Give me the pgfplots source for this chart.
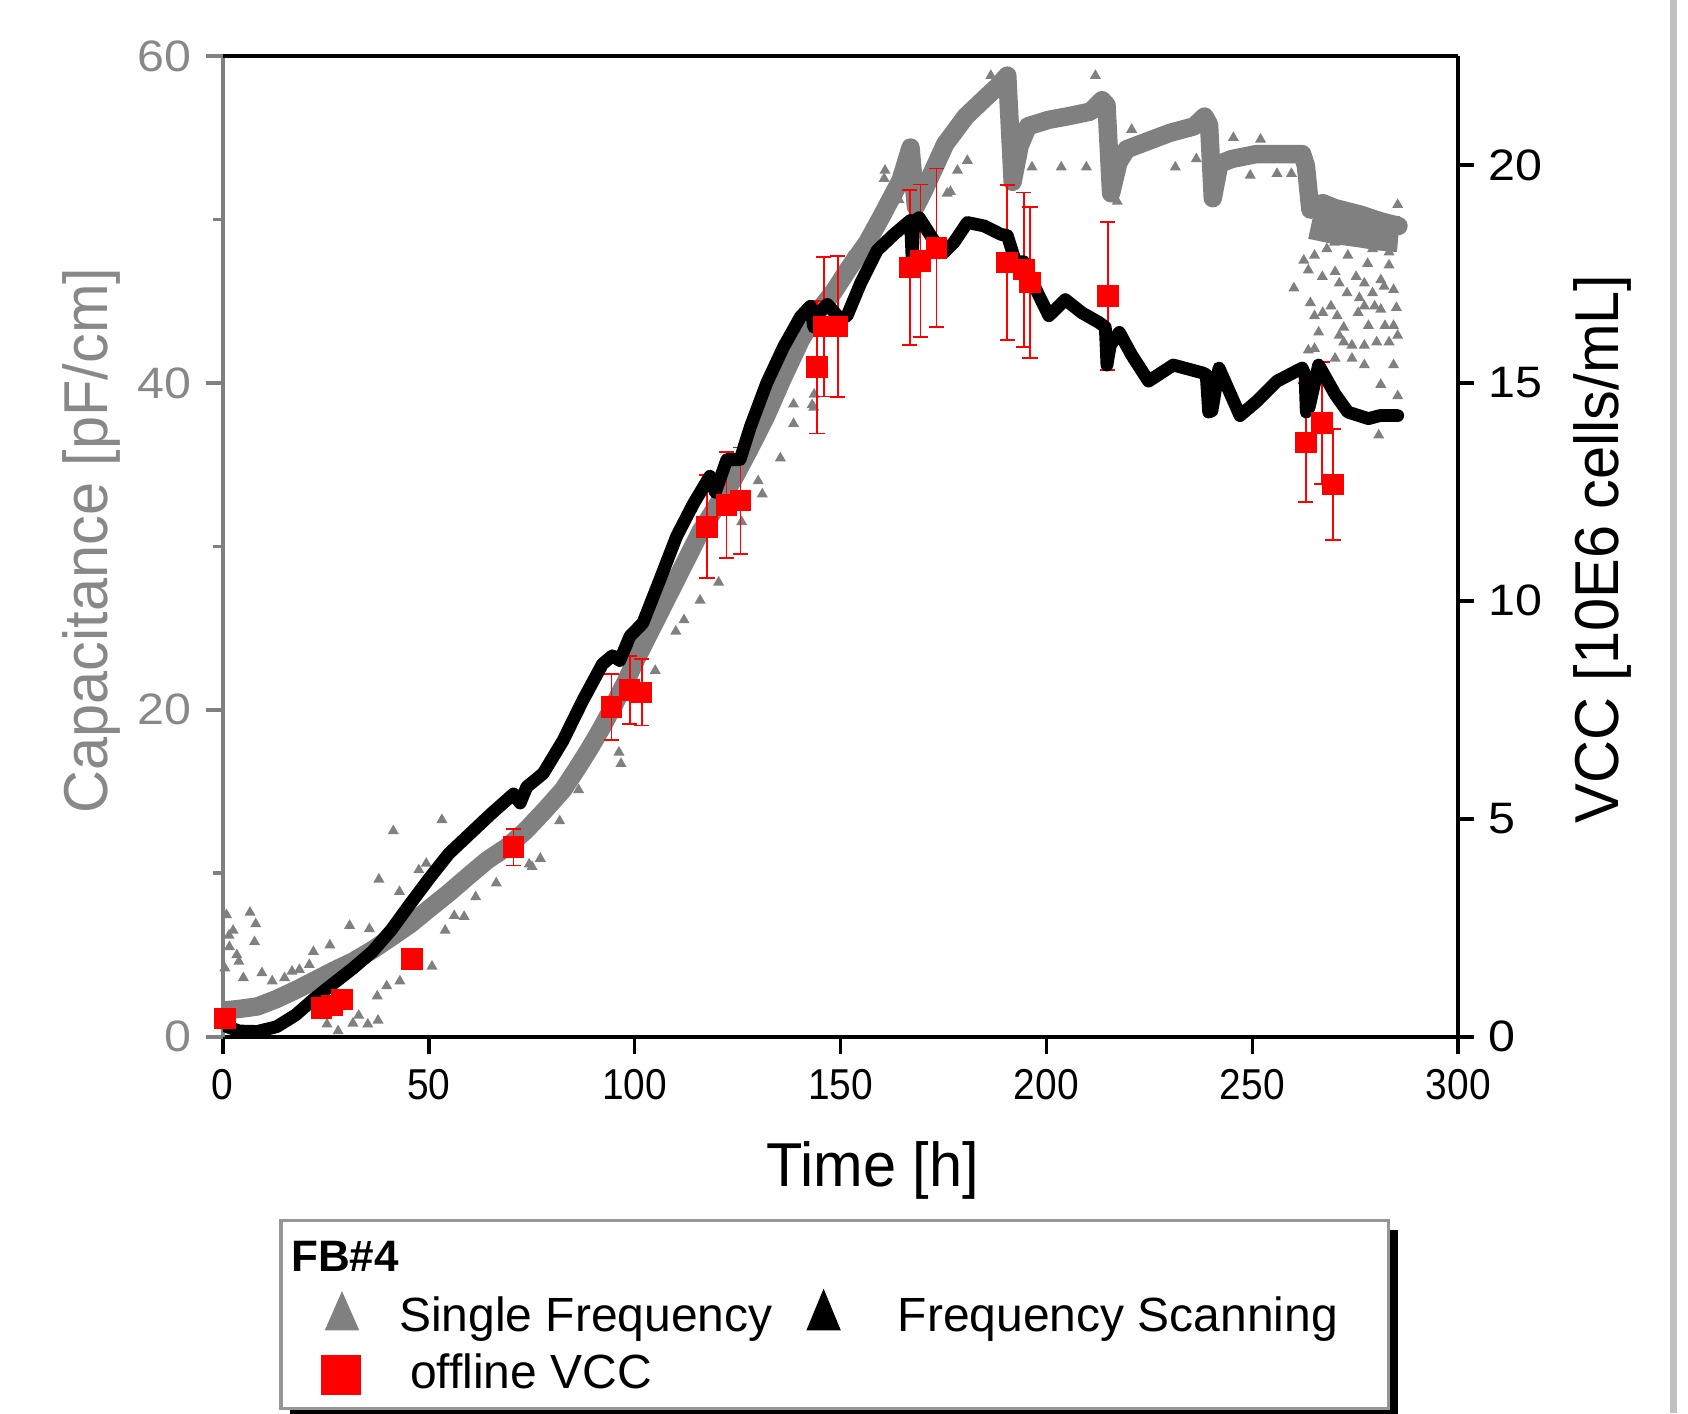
\documentclass[border=0pt]{standalone}
\usepackage{pgfplots}
\pgfplotsset{compat=1.18}
\usepackage{pgfplotstable}
\usepackage{fontspec}
\setmainfont{Liberation Sans}
\newfontfamily\labfont[FakeStretch=0.96]{Liberation Sans}
\newfontfamily\btickfont[FakeStretch=0.9]{Liberation Sans}
\newfontfamily\stickfont[FakeStretch=1.1]{Liberation Sans}
\definecolor{dgray}{RGB}{128,128,128}
\definecolor{tgray}{RGB}{136,136,136}
\definecolor{fgray}{RGB}{150,150,150}
\definecolor{bargray}{RGB}{192,192,192}

% Single Frequency capacitance band [pF/cm]
\pgfplotstableread{
t v
0 1.6
4 1.7
8.4 1.85
13 2.3
17.7 2.85
22 3.4
27 4.05
31.6 4.6
36.3 5.3
41 6.1
45.6 6.9
50.2 7.85
54.9 8.8
59.5 9.8
64.2 10.8
69 11.6
73.5 12.6
78 13.8
82.6 15.1
86 16.4
89 17.6
92 18.9
95 20.3
98 21.8
100.2 23.0
104 24.9
108 26.9
112 28.9
116 30.9
120 32.5
124 34.1
128 36.0
132 38.0
136 40.3
140.3 42.6
144 44.2
148.4 45.6
152 47.0
156.5 48.6
160 50.2
164.6 52.4
167 54.4
168.3 50.8
170.3 51.8
172.5 53.0
175.4 54.6
180.4 56.3
185 57.4
188 58.1
190.5 58.8
191.8 52.3
193.5 54.5
195.5 55.7
200.6 56.1
205 56.3
210.7 56.6
213.5 57.3
214.6 57.0
215.7 51.6
217.5 53.5
219.5 54.3
225.8 54.9
230 55.3
235.9 55.7
238.4 56.3
239.5 55.8
240.4 51.3
242 53.4
245 53.7
251 54.0
256 54.0
262.1 54.0
263 53.3
264.1 50.6
266 50.9
267.1 51.0
270 50.7
276.2 50.3
281 49.9
285.5 49.6
}\singleband

% wide, noisy part of the single frequency band at the end
\pgfplotstableread{
t v
264.5 49.9
270 49.6
276 49.4
281 49.2
285.5 49.1
}\singlewide

% scattered single frequency readings [pF/cm]
\pgfplotstableread{
t v
0.9 7.45
6.6 7.6
8 6.9
2.5 6.5
7.7 5.8
3.4 5.0
1.5 6.2
0.5 4.2
1.6 5.5
3.9 4.6
5 3.6
9.5 3.9
12 3.4
15 3.6
16.8 4.0
18.6 4.1
21 4.4
22 5.2
26 5.6
25.3 0.76
28 0.35
31.6 0.82
35.2 0.76
37.7 1.0
33 1.3
30.8 6.8
35.6 6.6
37.9 9.63
41.4 12.59
53.2 13.27
42.9 8.87
47.6 10.2
49.4 10.6
56.2 7.4
58.6 7.35
54 6.5
50.8 4.3
43 3.4
39.8 3.1
37.5 2.48
61.4 8.55
66.4 9.4
74.4 10.55
75.1 10.4
77.1 10.9
81.8 13.2
86.4 15.1
96.2 17.4
96.7 16.7
105 22.4
110 24.8
112 25.5
115.9 26.7
120.4 27.8
126 31.5
130 34.0
131 33.2
135.4 35.4
138.6 37.5
138.6 38.7
143.5 38.5
143.1 38.65
143.6 39.3
152.2 47.7
152.4 47.2
160.6 52.5
160.8 53.0
164.2 51.2
175.9 51.6
176.7 51.7
178.4 53.0
180.8 53.6
186.5 58.8
196.5 53.2
203.6 53.2
209.7 53.2
211.9 58.8
217.2 51.1
220.7 55.5
231.3 53.2
236.4 53.7
245.4 55.0
249.5 52.7
252 54.9
256 52.8
259.5 52.8
260.1 45.8
262.5 47.5
263.6 46.9
264.1 44.9
265.1 44.1
263.6 42.0
265.1 42.1
265.1 47.8
265.1 49.0
266.1 43.1
267 46.5
267.1 44.3
268.1 48.2
268.6 40.3
269.1 44.7
270 48.6
270.1 46.8
270.1 41.5
270.6 44.1
271.1 46.1
271.1 42.9
272.2 43.4
272.2 42.5
273 45.5
273.2 47.8
274.2 42.3
274.2 41.5
275.2 46.5
275.7 44.3
276 45.2
277.2 46.1
277.2 44.7
277.2 42.3
277.2 41.1
278 47.3
278.2 43.5
279.2 45.5
279.2 48.2
279.7 44.7
280.2 42.5
280.7 36.8
281.2 46.3
281.2 44.5
281.2 39.9
282 45.9
282.2 43.5
283.2 47.2
283.2 48.0
283.2 42.5
284.3 45.7
284.3 43.5
284.3 41.1
285 44.6
285.3 42.9
285.3 39.2
285.3 50.9
}\singlescatter

% Frequency Scanning [10E6 cells/mL]
\pgfplotstableread{
t v
0 0.34
1 0.23
4 0.13
8.4 0.12
13.1 0.23
17.7 0.50
22.3 0.88
27 1.23
31.6 1.57
36.3 1.95
40.9 2.45
45.6 3.06
50.2 3.64
54.9 4.20
59.5 4.61
65 5.10
70.6 5.57
72.2 5.36
73.8 5.73
77.8 6.04
82.6 6.79
87.4 7.71
92.2 8.55
94.6 8.74
96.4 8.63
98.9 9.19
102 9.49
106.2 10.50
110.2 11.48
114.3 12.23
118.3 12.86
119.6 12.49
122.4 13.24
125.6 13.24
128.1 13.99
132.1 15.00
136.2 15.83
140.3 16.52
142.7 16.76
143.5 16.28
144.5 16.58
146.8 16.80
150 16.46
151.6 16.54
154.9 17.29
158.9 18.04
163 18.41
167 18.73
167.4 17.81
167.8 18.71
169.1 18.79
172.7 18.26
175.2 18.00
177.6 18.23
180.8 18.68
184.9 18.60
188.9 18.41
190.5 18.38
192.5 17.78
194.5 17.78
196.5 17.33
200.6 16.54
204.6 16.91
208.6 16.61
212.7 16.39
214.3 16.28
214.7 15.41
215.5 15.86
217.7 16.16
220.7 15.64
224.8 15.04
230.8 15.41
237.9 15.23
238.8 15.19
239.4 14.33
240.2 14.36
241.9 15.34
247 14.25
251 14.57
256 15.04
262.1 15.34
262.8 15.19
263.1 14.33
263.8 14.44
266.1 15.41
270.1 14.74
273.2 14.33
278.2 14.18
281 14.25
285.3 14.25
}\fscan

% offline VCC [10E6 cells/mL] with error
\pgfplotstableread{
t v e
0.5 0.42 0
24 0.66 0
26.5 0.72 0
29 0.85 0
46 1.78 0
70.6 4.35 0.42
94.4 7.56 0.76
98.8 7.95 0.78
101.7 7.90 0.76
117.6 11.70 1.18
122.3 12.20 1.22
125.7 12.30 1.22
144.3 15.36 1.52
145.9 16.29 1.60
149.3 16.29 1.62
166.8 17.65 1.78
169.4 17.80 1.75
173.3 18.10 1.82
190.5 17.76 1.78
194.5 17.60 1.77
196.0 17.30 1.73
214.9 17.00 1.70
263.0 13.63 1.36
266.9 14.08 1.40
269.6 12.67 1.27
}\offline

\begin{document}
\begin{tikzpicture}
\path[use as bounding box] (-55.7pt,-94.075pt) rectangle (366.3pt,259.175pt);

\begin{axis}[
  scale only axis, width=308.85pt, height=245.175pt,
  at={(0pt,0pt)}, anchor=south west,
  xmin=0, xmax=300, ymin=0, ymax=60,
  axis x line*=bottom, axis y line*=left,
  xtick={0,50,100,150,200,250,300},
  ytick={0,20,40,60}, minor ytick={10,30,50},
  tick align=outside,
  major tick length=4.3pt, minor tick length=2.4pt,
  x axis line style={black, line width=0.9pt},
  y axis line style={dgray, line width=0.9pt},
  xtick style={black, line width=0.9pt},
  ytick style={dgray, line width=0.9pt},
  /pgf/number format/assume math mode=true,
  xticklabel style={font=\btickfont\fontsize{10.8}{12}\selectfont, anchor=base, inner sep=0pt, yshift=-11.5pt},
  yticklabel style={font=\stickfont\fontsize{11}{12}\selectfont, text=tgray, anchor=east, inner sep=0pt, xshift=-3.4pt},
  xlabel={Time [h]},
  xlabel style={font=\labfont\fontsize{15.5}{17}\selectfont, at={(axis description cs:0.5261,-0.153)}, anchor=base, inner sep=0pt},
  ylabel={Capacitance [pF/cm]},
  ylabel style={font=\labfont\fontsize{15.5}{17}\selectfont, text=tgray, at={(axis description cs:-0.0936,0.506)}, anchor=base, rotate=0, inner sep=0pt},
]
\addplot[only marks, mark=triangle*, mark size=1.2pt, color=dgray] table[x=t, y=v] {\singlescatter};
\addplot[dgray, line width=9pt, line cap=butt, line join=round] table[x=t, y=v] {\singlewide};
\addplot[dgray, line width=4.6pt, line cap=round, line join=round] table[x=t, y=v] {\singleband};
\end{axis}

\begin{axis}[
  scale only axis, width=308.85pt, height=245.175pt,
  at={(0pt,0pt)}, anchor=south west,
  xmin=0, xmax=300, ymin=0, ymax=22.5,
  axis x line*=top, axis y line*=right,
  xtick=\empty,
  ytick={0,5,10,15,20},
  tick align=outside,
  major tick length=4pt,
  x axis line style={black, line width=0.9pt},
  y axis line style={black, line width=0.9pt},
  ytick style={black, line width=0.9pt},
  /pgf/number format/assume math mode=true,
  yticklabel style={font=\stickfont\fontsize{11}{12}\selectfont, anchor=west, inner sep=0pt, xshift=3.4pt},
  ylabel={VCC [10E6 cells/mL]},
  ylabel style={font=\labfont\fontsize{15.5}{17}\selectfont, at={(axis description cs:1.1300,0.4973)}, anchor=base, inner sep=0pt},
]
\addplot[only marks, mark=square*, mark size=2.5pt, color=red,
  error bars/.cd, y dir=both, y explicit,
  error bar style={red, line width=0.45pt},
  error mark options={red, rotate=90, mark size=1.9pt, line width=0.45pt}]
  table[x=t, y=v, y error=e] {\offline};
\addplot[black, line width=3.2pt, line cap=round, line join=round] table[x=t, y=v] {\fscan};
\end{axis}

% legend
\fill[black] (16.9pt,-48.4pt) rectangle (293.8pt,-95.3pt);
\filldraw[fill=white, draw=fgray, line width=0.8pt] (14.55pt,-46pt) rectangle (291.4pt,-92.9pt);
\node[anchor=base west, inner sep=0pt, font=\fontsize{11}{13}\selectfont\bfseries] at (16.9pt,-58.75pt) {FB\#4};
\fill[dgray] (25.5pt,-73.4pt) -- (34.1pt,-73.4pt) -- (29.8pt,-63.6pt) -- cycle;
\node[anchor=base west, inner sep=0pt, font=\fontsize{12}{14}\selectfont] at (43.9pt,-73.7pt) {Single Frequency};
\fill[black] (145.9pt,-73.4pt) -- (154.5pt,-73.4pt) -- (150.2pt,-63.0pt) -- cycle;
\node[anchor=base west, inner sep=0pt, font=\fontsize{12}{14}\selectfont] at (168.55pt,-73.7pt) {Frequency Scanning};
\fill[red] (24.65pt,-89.6pt) rectangle (34.65pt,-79.6pt);
\node[anchor=base west, inner sep=0pt, font=\fontsize{12}{14}\selectfont] at (46.6pt,-87.9pt) {offline VCC};

% grey strip at the right edge of the page
\fill[bargray] (361.8pt,-94.075pt) rectangle (363.6pt,259.175pt);
\end{tikzpicture}
\end{document}
